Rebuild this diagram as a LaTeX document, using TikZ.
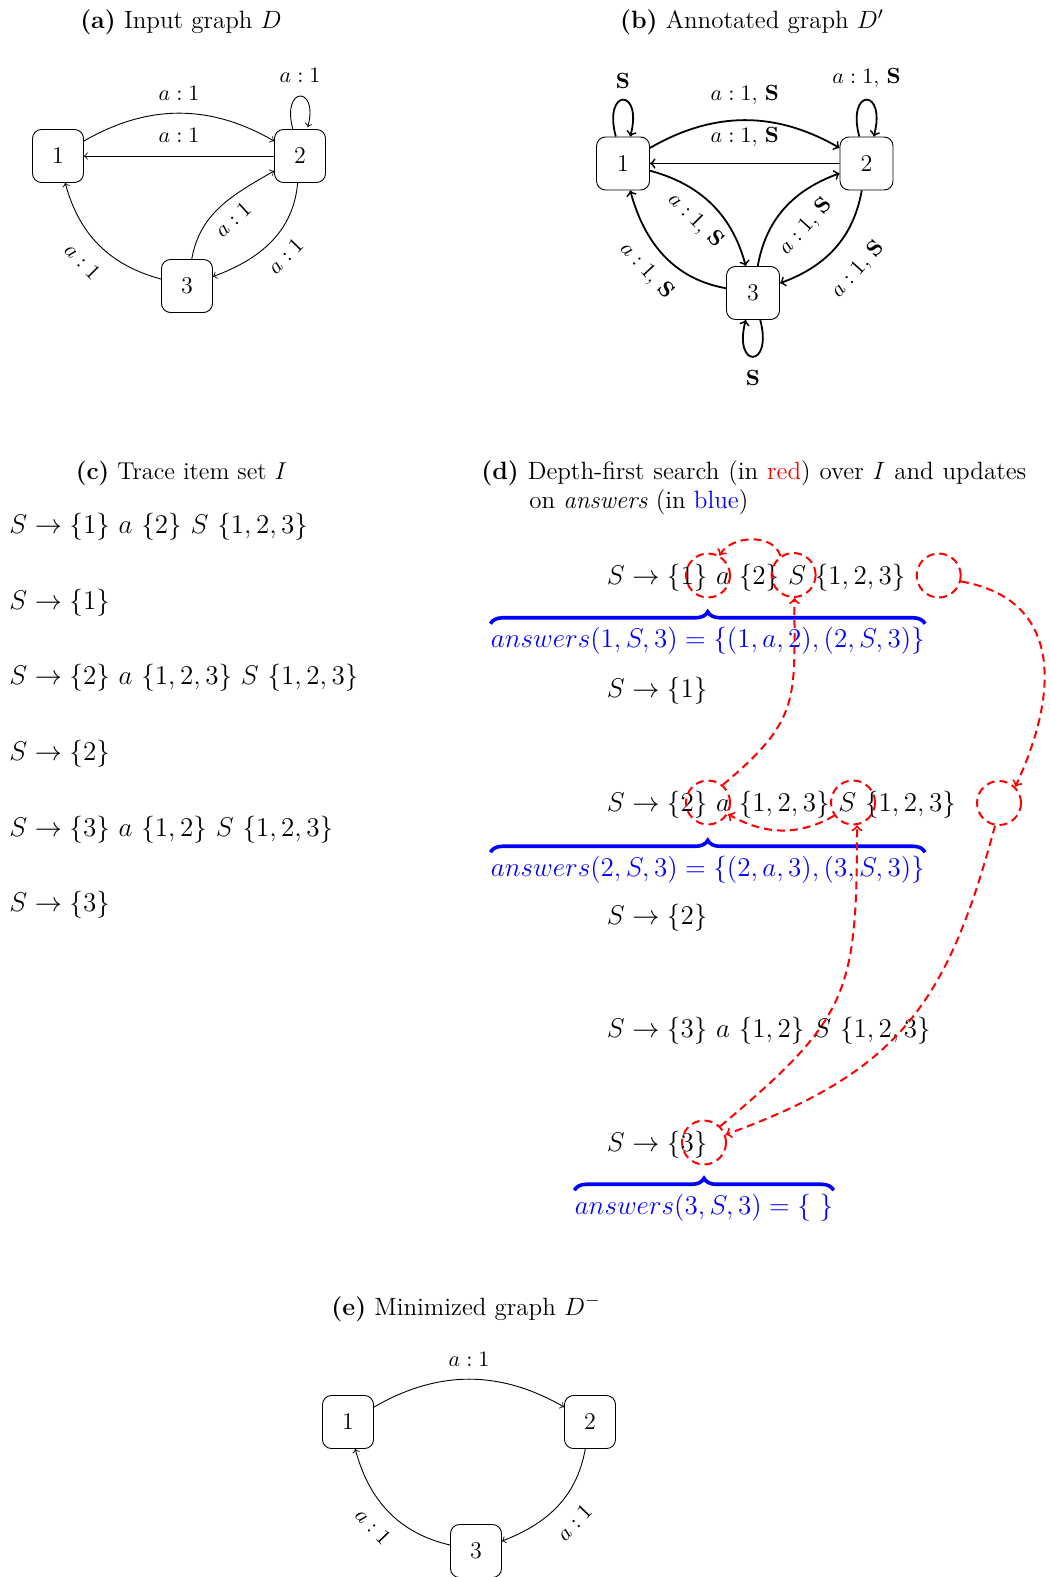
\RequirePackage{fix-cm}
\documentclass[tikz,border=0pt]{standalone}
\usetikzlibrary{decorations.pathreplacing}
\begin{document}
\begin{tikzpicture}[x=0.5pt,y=0.5pt,
  gnodeA/.style={draw, line width=0.45pt, rounded corners=4.5pt, minimum width=25.5pt, minimum height=26.5pt, inner sep=0pt, font=\fontsize{12}{14}\selectfont},
  gnodeB/.style={gnodeA, minimum width=26.5pt},
  glabel/.style={font=\fontsize{11}{13}\selectfont},
  edgeA/.style={->, line width=0.45pt},
  edgeB/.style={->, line width=0.9pt},
  captxt/.style={font=\fontsize{12.5}{15}\selectfont, inner sep=0pt, anchor=base},
  rowtext/.style={font=\fontsize{13.55}{16}\selectfont, inner sep=0pt, anchor=base west},
  anstext/.style={font=\fontsize{13.55}{16}\selectfont, inner sep=0pt, anchor=base, text=blue},
  dfscircle/.style={circle, draw=red, dash pattern=on 4pt off 2.5pt, line width=1pt, minimum size=22pt, inner sep=0pt},
  dfsarrow/.style={->, draw=red, dash pattern=on 4pt off 2.5pt, line width=1pt},
  bluebrace/.style={draw=blue, line width=1.8pt, decorate, decoration={brace, amplitude=6pt}}
]
\useasboundingbox (0,0) rectangle (1049,-1577);

% ---------- (a) ----------
\node[captxt] (capa) at (181,-28.3) {\textbf{(a)} Input graph $D$};
\node[gnodeA] (a1) at (58,-156) {1};
\node[gnodeA] (a2) at (300,-156) {2};
\node[gnodeA] (a3) at (187,-286) {3};
\draw[edgeA] (a1) to[bend left=30] node[glabel, above=3pt] {$a:1$} (a2);
\draw[edgeA] (a2) -- node[glabel, above=3pt] {$a:1$} (a1);
\path (a2) edge[edgeA, loop above] node[glabel, above=3.5pt] {$a:1$} (a2);
\draw[edgeA] (a3) to[out=165, in=-75] node[glabel, sloped, below=4.5pt] {$a:1$} (a1);
\draw[edgeA] (a3) to[out=80, in=-150] node[glabel, sloped, below=2pt] {$a:1$} (a2);
\draw[edgeA] (a2) to[out=-95, in=20] node[glabel, sloped, below=3pt] {$a:1$} (a3);

% ---------- (b) ----------
\node[captxt] (capb) at (752,-28.3) {\textbf{(b)} Annotated graph $D'$};
\node[gnodeB] (b1) at (623,-163.5) {1};
\node[gnodeB] (b2) at (866.5,-163.5) {2};
\node[gnodeB] (b3) at (753,-293) {3};
\draw[edgeB] (b1) to[bend left=30] node[glabel, above=4pt] {$a:1$, $\mathbf{S}$} (b2);
\draw[edgeB] (b2) -- node[glabel, above=4.5pt] {$a:1$, $\mathbf{S}$} (b1);
\path (b1) edge[edgeB, loop above, looseness=9] node[glabel, above=2pt] {$\mathbf{S}$} (b1);
\path (b2) edge[edgeB, loop above, looseness=9] node[glabel, above=2.5pt] {$a:1$, $\mathbf{S}$} (b2);
\path (b3) edge[edgeB, loop below, looseness=9] node[glabel, below=3pt] {$\mathbf{S}$} (b3);
\draw[edgeB] (b1) to[out=-15, in=105] node[glabel, sloped, below=3pt] {$a:1$, $\mathbf{S}$} (b3);
\draw[edgeB] (b3) to[out=170, in=-75] node[glabel, sloped, below=3pt] {$a:1$, $\mathbf{S}$} (b1);
\draw[edgeB] (b3) to[out=80, in=-160] node[glabel, sloped, below=5.5pt] {$a:1$, $\mathbf{S}$} (b2);
\draw[edgeB] (b2) to[out=-100, in=20] node[glabel, sloped, below=7pt] {$a:1$, $\mathbf{S}$} (b3);

% ---------- (c) ----------
\node[captxt, font=\fontsize{12.2}{14.6}\selectfont] (capc) at (181.5,-480) {\textbf{(c)} Trace item set $I$};
\node[rowtext] (c1) at (9,-533.3) {$S \rightarrow \{1\}\ a\ \{2\}\ S\ \{1,2,3\}$};
\node[rowtext] (c2) at (9,-609) {$S \rightarrow \{1\}$};
\node[rowtext] (c3) at (9,-684.7) {$S \rightarrow \{2\}\ a\ \{1,2,3\}\ S\ \{1,2,3\}$};
\node[rowtext] (c4) at (9,-760.4) {$S \rightarrow \{2\}$};
\node[rowtext] (c5) at (9,-836.1) {$S \rightarrow \{3\}\ a\ \{1,2\}\ S\ \{1,2,3\}$};
\node[rowtext] (c6) at (9,-911.8) {$S \rightarrow \{3\}$};

% ---------- (d) ----------
\node[captxt, anchor=base west] (capd1) at (481,-479.3) {\hbox to 272.5pt{\textbf{(d)} Depth-first search (in \textcolor{red}{red}) over $I$ and updates}};
\node[captxt, anchor=base west] (capd2) at (529,-508.3) {on \textit{answers} (in \textcolor{blue}{blue})};

\node[rowtext] (d1) at (606.5,-584.5) {$S \rightarrow \{1\}\ a\ \{2\}\ S\ \{1,2,3\}$};
\node[rowtext] (d2) at (606.5,-697.8) {$S \rightarrow \{1\}$};
\node[rowtext] (d3) at (606.5,-811.1) {$S \rightarrow \{2\}\ a\ \{1,2,3\}\ S\ \{1,2,3\}$};
\node[rowtext] (d4) at (606.5,-924.4) {$S \rightarrow \{2\}$};
\node[rowtext] (d5) at (606.5,-1037.7) {$S \rightarrow \{3\}\ a\ \{1,2\}\ S\ \{1,2,3\}$};
\node[rowtext] (d6) at (606.5,-1151) {$S \rightarrow \{3\}$};

\node[anstext] (ans1) at (707.75,-647.5) {$answers(1,S,3) = \{(1,a,2),(2,S,3)\}$};
\node[anstext] (ans2) at (707.75,-876) {$answers(2,S,3) = \{(2,a,3),(3,S,3)\}$};
\node[anstext] (ans3) at (704,-1214) {$answers(3,S,3) = \{\ \}$};
\draw[bluebrace] ([yshift=1.5pt]ans1.north west) -- ([yshift=1.5pt]ans1.north east);
\draw[bluebrace] ([yshift=1.5pt]ans2.north west) -- ([yshift=1.5pt]ans2.north east);
\draw[bluebrace] ([yshift=1.5pt]ans3.north west) -- ([yshift=1.5pt]ans3.north east);

\node[dfscircle] (k1a) at (708,-575.5) {};
\node[dfscircle] (k1b) at (793.6,-575) {};
\node[dfscircle] (k1c) at (938.7,-575.5) {};
\node[dfscircle] (k3a) at (708,-802.5) {};
\node[dfscircle] (k3b) at (853,-802.5) {};
\node[dfscircle] (k3c) at (999,-803) {};
\node[dfscircle] (k6) at (704,-1142.5) {};

\draw[dfsarrow] (k1b.125) to[out=105, in=60] (k1a.60);
\draw[dfsarrow] (k1c.-15) to[out=-10, in=65, looseness=1.25] (k3c.45);
\draw[dfsarrow] (k3b.-145) to[out=-150, in=-30] (k3a.-30);
\draw[dfsarrow] (k3a.50) to[out=40, in=-90, looseness=1.3] (k1b.-88);
\draw[dfsarrow] (k3c.-100) to[out=-105, in=20, looseness=1.15] (k6.20);
\draw[dfsarrow] (k6.45) to[out=40, in=-90, looseness=1.3] (k3b.-80);

% ---------- (e) ----------
\node[captxt] (cape) at (466,-1315) {\textbf{(e)} Minimized graph $D^-$};
\node[gnodeA] (e1) at (348,-1422) {1};
\node[gnodeA] (e2) at (590,-1422) {2};
\node[gnodeA] (e3) at (476,-1551) {3};
\draw[edgeA] (e1) to[bend left=30] node[glabel, above=3pt] {$a:1$} (e2);
\draw[edgeA] (e2) to[out=-100, in=21] node[glabel, sloped, below=4.5pt] {$a:1$} (e3);
\draw[edgeA] (e3) to[out=167, in=-75] node[glabel, sloped, below=3.5pt] {$a:1$} (e1);
\end{tikzpicture}
\end{document}
